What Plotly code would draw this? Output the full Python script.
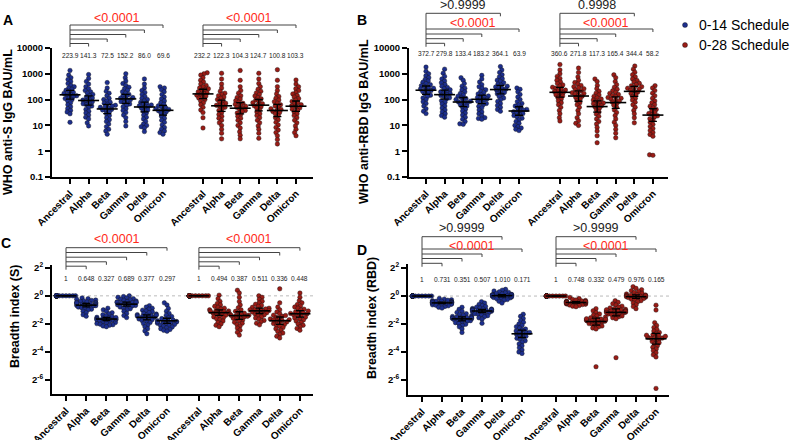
import numpy as np
import plotly.graph_objects as go

W, H = 793, 440
FONT = "Arial, Liberation Sans, sans-serif"
BLUE = "#1d2f8e"
RED = "#9a1c16"
PRED = "#ff2a1a"

VARIANTS = ["Ancestral", "Alpha", "Beta", "Gamma", "Delta", "Omicron"]
SCHEDULES = ["0-14 Schedule", "0-28 Schedule"]

# ---------------- Panel A: WHO anti-S IgG, log10(BAU/mL) ----------------
A_014 = [
    [3.13, 2.95, 2.85, 2.78, 2.7, 2.62, 2.55, 2.5, 2.45, 2.4, 2.36, 2.32, 2.28, 2.24, 2.2, 2.18, 2.15, 2.12, 2.08, 2.04, 2.0, 1.95, 1.88, 1.8, 1.72, 1.65, 1.58, 1.52, 1.45, 1.12],
    [2.97, 2.82, 2.7, 2.6, 2.5, 2.42, 2.35, 2.3, 2.25, 2.2, 2.15, 2.1, 2.06, 2.02, 1.98, 1.95, 1.92, 1.88, 1.84, 1.8, 1.75, 1.7, 1.62, 1.55, 1.48, 1.4, 1.32, 1.25, 1.1, 0.98],
    [2.66, 2.45, 2.32, 2.25, 2.15, 2.05, 2.0, 1.95, 1.9, 1.86, 1.82, 1.78, 1.75, 1.72, 1.7, 1.67, 1.62, 1.58, 1.52, 1.45, 1.38, 1.3, 1.22, 1.15, 1.05, 0.95, 0.85, 0.78, 0.66, 1.6],
    [3.0, 2.85, 2.72, 2.62, 2.55, 2.48, 2.42, 2.36, 2.3, 2.25, 2.2, 2.16, 2.12, 2.08, 2.05, 2.02, 1.99, 1.96, 1.92, 1.88, 1.83, 1.78, 1.72, 1.65, 1.58, 1.5, 1.4, 1.3, 1.15, 0.98],
    [2.8, 2.6, 2.45, 2.35, 2.28, 2.2, 2.12, 2.05, 2.0, 1.95, 1.9, 1.86, 1.82, 1.79, 1.76, 1.73, 1.7, 1.66, 1.6, 1.55, 1.48, 1.4, 1.32, 1.25, 1.15, 1.05, 1.0, 0.95, 0.9, 0.76],
    [2.5, 2.45, 2.38, 2.3, 2.2, 2.1, 2.02, 1.95, 1.88, 1.82, 1.76, 1.72, 1.68, 1.65, 1.62, 1.6, 1.57, 1.53, 1.48, 1.42, 1.35, 1.28, 1.2, 1.12, 1.02, 0.92, 0.85, 0.78, 0.72, 0.66],
]
A_028 = [
    [3.04, 3.0, 2.95, 2.85, 2.75, 2.68, 2.6, 2.55, 2.5, 2.45, 2.42, 2.38, 2.35, 2.3, 2.27, 2.24, 2.2, 2.17, 2.14, 2.1, 2.06, 2.0, 1.95, 1.88, 1.8, 1.7, 1.6, 1.5, 1.3, 0.9],
    [3.02, 2.8, 2.6, 2.45, 2.32, 2.25, 2.2, 2.15, 2.1, 2.05, 2.0, 1.95, 1.9, 1.86, 1.82, 1.78, 1.74, 1.7, 1.64, 1.58, 1.5, 1.42, 1.35, 1.28, 1.2, 1.1, 1.0, 0.85, 0.7, 0.48],
    [3.13, 2.75, 2.5, 2.35, 2.25, 2.15, 2.08, 2.02, 1.96, 1.9, 1.86, 1.82, 1.78, 1.74, 1.7, 1.67, 1.63, 1.58, 1.54, 1.48, 1.42, 1.35, 1.28, 1.2, 1.1, 1.0, 0.9, 0.75, 0.62, 0.48],
    [3.02, 2.8, 2.62, 2.5, 2.4, 2.32, 2.26, 2.2, 2.14, 2.08, 2.03, 1.98, 1.93, 1.88, 1.84, 1.8, 1.76, 1.72, 1.67, 1.6, 1.52, 1.45, 1.38, 1.3, 1.2, 1.1, 0.98, 0.85, 0.7, 0.5],
    [3.16, 2.75, 2.5, 2.35, 2.22, 2.12, 2.05, 1.98, 1.92, 1.86, 1.8, 1.75, 1.7, 1.65, 1.62, 1.58, 1.54, 1.5, 1.45, 1.38, 1.3, 1.22, 1.12, 1.02, 0.92, 0.82, 0.72, 0.6, 0.45, 0.28],
    [2.76, 2.6, 2.5, 2.42, 2.35, 2.28, 2.22, 2.16, 2.1, 2.04, 1.98, 1.93, 1.88, 1.84, 1.8, 1.76, 1.72, 1.68, 1.63, 1.58, 1.52, 1.45, 1.38, 1.3, 1.2, 1.1, 0.98, 0.85, 0.72, 0.6],
]
A_014_LBL = ["223.9", "141.3", "72.5", "152.2", "86.0", "69.6"]
A_028_LBL = ["232.2", "122.3", "104.3", "124.7", "100.8", "103.3"]

# ---------------- Panel B: WHO anti-RBD IgG, log10(BAU/mL) ----------------
B_014 = [
    [3.26, 3.1, 3.0, 2.92, 2.85, 2.78, 2.72, 2.67, 2.62, 2.58, 2.54, 2.5, 2.47, 2.44, 2.41, 2.38, 2.35, 2.31, 2.27, 2.22, 2.17, 2.12, 2.06, 2.0, 1.92, 1.85, 1.75, 1.65, 1.55, 1.46],
    [3.18, 3.02, 2.9, 2.8, 2.72, 2.65, 2.58, 2.52, 2.47, 2.42, 2.38, 2.34, 2.3, 2.27, 2.24, 2.2, 2.16, 2.12, 2.07, 2.02, 1.96, 1.9, 1.83, 1.75, 1.67, 1.6, 1.52, 1.45, 1.38, 1.32],
    [2.85, 2.75, 2.62, 2.52, 2.44, 2.37, 2.3, 2.24, 2.18, 2.13, 2.08, 2.04, 2.0, 1.97, 1.94, 1.91, 1.88, 1.84, 1.8, 1.75, 1.7, 1.63, 1.56, 1.48, 1.4, 1.32, 1.24, 1.15, 1.06, 1.04],
    [2.94, 2.8, 2.68, 2.58, 2.5, 2.44, 2.38, 2.32, 2.27, 2.22, 2.18, 2.14, 2.11, 2.08, 2.05, 2.02, 1.98, 1.94, 1.9, 1.85, 1.8, 1.74, 1.68, 1.6, 1.52, 1.45, 1.38, 1.3, 1.27, 1.24],
    [3.28, 3.15, 3.05, 2.96, 2.88, 2.81, 2.75, 2.7, 2.65, 2.6, 2.56, 2.52, 2.49, 2.46, 2.43, 2.4, 2.36, 2.32, 2.28, 2.23, 2.18, 2.12, 2.06, 2.0, 1.93, 1.85, 1.77, 1.7, 1.62, 1.55],
    [2.45, 2.4, 2.3, 2.2, 2.1, 2.0, 1.92, 1.85, 1.8, 1.75, 1.7, 1.66, 1.62, 1.59, 1.56, 1.53, 1.5, 1.46, 1.42, 1.38, 1.33, 1.28, 1.22, 1.15, 1.08, 1.0, 0.95, 0.9, 0.85, 0.8],
]
B_028 = [
    [3.36, 3.15, 3.0, 2.9, 2.82, 2.75, 2.68, 2.62, 2.57, 2.52, 2.48, 2.44, 2.4, 2.37, 2.34, 2.31, 2.27, 2.23, 2.19, 2.14, 2.08, 2.02, 1.95, 1.88, 1.8, 1.7, 1.58, 1.45, 1.3, 1.17],
    [3.22, 3.05, 2.88, 2.75, 2.66, 2.6, 2.55, 2.5, 2.46, 2.42, 2.38, 2.34, 2.3, 2.27, 2.24, 2.21, 2.17, 2.13, 2.08, 2.02, 1.96, 1.88, 1.8, 1.7, 1.58, 1.45, 1.3, 1.18, 1.08, 1.0],
    [2.8, 2.7, 2.55, 2.42, 2.32, 2.25, 2.18, 2.12, 2.07, 2.02, 1.98, 1.94, 1.9, 1.87, 1.84, 1.8, 1.76, 1.72, 1.66, 1.6, 1.52, 1.44, 1.35, 1.25, 1.15, 1.05, 0.92, 0.78, 0.6, 0.33],
    [2.96, 2.85, 2.7, 2.58, 2.48, 2.4, 2.34, 2.28, 2.24, 2.2, 2.16, 2.12, 2.08, 2.05, 2.02, 1.98, 1.94, 1.9, 1.85, 1.78, 1.7, 1.6, 1.5, 1.38, 1.25, 1.12, 1.0, 0.85, 0.7, 0.52],
    [3.3, 3.18, 3.06, 2.96, 2.88, 2.8, 2.74, 2.68, 2.63, 2.58, 2.54, 2.5, 2.47, 2.44, 2.41, 2.37, 2.33, 2.29, 2.24, 2.18, 2.12, 2.05, 1.98, 1.9, 1.8, 1.7, 1.58, 1.45, 1.3, 1.1],
    [2.54, 2.45, 2.35, 2.25, 2.15, 2.05, 1.95, 1.88, 1.8, 1.74, 1.68, 1.62, 1.56, 1.5, 1.46, 1.42, 1.37, 1.32, 1.26, 1.2, 1.12, 1.04, 0.96, 0.88, 0.8, 0.72, 0.65, 0.58, -0.14, -0.16],
]
B_014_LBL = ["372.7", "279.8", "133.4", "183.2", "364.1", "63.9"]
B_028_LBL = ["360.6", "271.8", "117.3", "165.4", "344.4", "58.2"]

# ---------------- Panel C: Breadth index (S), log2 ----------------
C_014 = [
    [0.0] * 30,
    [-0.15, -0.2, -0.25, -0.3, -0.33, -0.36, -0.4, -0.43, -0.46, -0.49, -0.52, -0.55, -0.57, -0.6, -0.62, -0.65, -0.68, -0.7, -0.73, -0.76, -0.8, -0.85, -0.9, -0.95, -1.0, -1.1, -1.2, -1.35, -1.45, -0.5],
    [-0.88, -1.0, -1.1, -1.2, -1.28, -1.35, -1.42, -1.48, -1.53, -1.57, -1.6, -1.63, -1.66, -1.69, -1.72, -1.75, -1.78, -1.82, -1.86, -1.9, -1.94, -1.98, -2.02, -2.06, -2.1, -2.15, -2.2, -1.65, -1.7, -1.55],
    [0.0, -0.05, -0.1, -0.15, -0.2, -0.24, -0.28, -0.32, -0.36, -0.4, -0.43, -0.46, -0.48, -0.5, -0.53, -0.56, -0.6, -0.64, -0.68, -0.72, -0.76, -0.8, -0.86, -0.92, -1.0, -1.1, -1.25, -1.4, -1.55, -0.45],
    [-0.7, -0.8, -0.88, -0.95, -1.02, -1.08, -1.14, -1.2, -1.25, -1.3, -1.34, -1.37, -1.4, -1.44, -1.48, -1.52, -1.56, -1.6, -1.65, -1.7, -1.76, -1.82, -1.9, -1.98, -2.08, -2.2, -2.35, -2.5, -2.7, -1.38],
    [-0.5, -0.65, -0.9, -1.1, -1.25, -1.38, -1.48, -1.56, -1.62, -1.68, -1.73, -1.77, -1.8, -1.83, -1.86, -1.89, -1.92, -1.96, -2.0, -2.04, -2.08, -2.12, -2.17, -2.22, -2.28, -2.34, -2.4, -2.46, -2.52, -1.85],
]
C_028 = [
    [0.0] * 30,
    [0.05, -0.2, -0.4, -0.55, -0.65, -0.75, -0.82, -0.88, -0.94, -1.0, -1.04, -1.08, -1.12, -1.16, -1.2, -1.24, -1.28, -1.33, -1.38, -1.44, -1.5, -1.56, -1.63, -1.7, -1.8, -1.9, -2.0, -2.1, -2.2, -1.1],
    [0.4, 0.2, -0.1, -0.4, -0.65, -0.85, -1.0, -1.1, -1.18, -1.24, -1.3, -1.34, -1.38, -1.42, -1.46, -1.5, -1.55, -1.6, -1.66, -1.72, -1.8, -1.88, -1.96, -2.05, -2.15, -2.3, -2.45, -2.6, -2.8, -1.4],
    [0.0, -0.1, -0.25, -0.38, -0.5, -0.6, -0.68, -0.75, -0.82, -0.88, -0.93, -0.97, -1.0, -1.04, -1.08, -1.12, -1.16, -1.2, -1.25, -1.3, -1.36, -1.42, -1.5, -1.58, -1.66, -1.75, -1.85, -1.95, -2.07, -0.95],
    [0.5, -0.5, -0.8, -1.0, -1.15, -1.28, -1.38, -1.46, -1.53, -1.6, -1.65, -1.7, -1.75, -1.8, -1.86, -1.92, -1.98, -2.04, -2.1, -2.18, -2.26, -2.35, -2.45, -2.55, -2.65, -2.75, -2.88, -3.0, -1.72, -1.4],
    [0.2, -0.1, -0.35, -0.5, -0.62, -0.72, -0.8, -0.88, -0.95, -1.02, -1.08, -1.14, -1.2, -1.25, -1.3, -1.35, -1.4, -1.46, -1.52, -1.58, -1.65, -1.72, -1.8, -1.9, -2.0, -2.1, -2.2, -2.32, -2.45, -1.22],
]
C_014_LBL = ["1", "0.648", "0.327", "0.689", "0.377", "0.297"]
C_028_LBL = ["1", "0.494", "0.387", "0.511", "0.336", "0.448"]

# ---------------- Panel D: Breadth index (RBD), log2 ----------------
D_014 = [
    [0.0] * 30,
    [-0.17, -0.22, -0.27, -0.3, -0.33, -0.36, -0.38, -0.4, -0.42, -0.44, -0.45, -0.46, -0.47, -0.48, -0.5, -0.52, -0.54, -0.56, -0.58, -0.6, -0.63, -0.66, -0.7, -0.74, -0.8, -0.86, -0.43, -0.41, -0.49, -0.51],
    [-0.8, -0.95, -1.08, -1.18, -1.26, -1.32, -1.38, -1.42, -1.46, -1.5, -1.53, -1.55, -1.57, -1.6, -1.62, -1.65, -1.68, -1.72, -1.76, -1.8, -1.85, -1.9, -1.96, -2.02, -2.1, -2.2, -2.35, -2.6, -1.52, -1.58],
    [-0.4, -0.5, -0.6, -0.68, -0.75, -0.8, -0.85, -0.89, -0.93, -0.96, -0.99, -1.02, -1.05, -1.08, -1.11, -1.14, -1.18, -1.22, -1.26, -1.3, -1.35, -1.4, -1.48, -1.55, -1.65, -1.95, -1.0, -0.98, -1.03, -0.92],
    [0.48, 0.42, 0.36, 0.3, 0.26, 0.22, 0.18, 0.15, 0.12, 0.1, 0.08, 0.06, 0.04, 0.02, 0.0, -0.02, -0.04, -0.07, -0.1, -0.13, -0.16, -0.2, -0.25, -0.3, -0.38, -0.5, 0.05, 0.03, 0.09, -0.01],
    [-1.3, -1.45, -1.6, -1.75, -1.88, -2.0, -2.1, -2.2, -2.28, -2.36, -2.43, -2.5, -2.56, -2.62, -2.68, -2.74, -2.8, -2.87, -2.94, -3.02, -3.1, -3.2, -3.3, -3.42, -3.55, -3.7, -3.85, -4.0, -4.1, -2.6],
]
D_028 = [
    [0.0] * 30,
    [-0.1, -0.18, -0.24, -0.28, -0.32, -0.35, -0.38, -0.4, -0.42, -0.44, -0.46, -0.48, -0.5, -0.52, -0.54, -0.56, -0.58, -0.61, -0.64, -0.68, -0.72, -0.76, -0.45, -0.43, -0.47, -0.41, -0.49, -0.39, -0.51, -0.46],
    [-0.9, -1.05, -1.18, -1.28, -1.36, -1.43, -1.5, -1.55, -1.6, -1.64, -1.68, -1.72, -1.76, -1.8, -1.84, -1.88, -1.92, -1.97, -2.02, -2.08, -2.14, -2.2, -2.28, -2.35, -1.7, -1.66, -1.74, -1.62, -1.78, -5.05],
    [-0.33, -0.45, -0.55, -0.64, -0.72, -0.79, -0.85, -0.9, -0.95, -1.0, -1.04, -1.08, -1.12, -1.16, -1.2, -1.24, -1.28, -1.32, -1.37, -1.42, -1.48, -1.55, -1.62, -1.1, -1.06, -1.14, -0.98, -1.18, -1.02, -4.4],
    [0.67, 0.55, 0.45, 0.38, 0.32, 0.26, 0.2, 0.15, 0.11, 0.07, 0.04, 0.01, -0.02, -0.05, -0.08, -0.11, -0.14, -0.18, -0.22, -0.27, -0.33, -0.4, -0.5, -0.62, -0.75, -0.9, 0.0, 0.02, -0.03, 0.06],
    [-0.65, -1.0, -1.9, -2.1, -2.25, -2.38, -2.5, -2.6, -2.68, -2.76, -2.84, -2.92, -3.0, -3.08, -3.16, -3.25, -3.34, -3.44, -3.55, -3.66, -3.78, -3.9, -4.05, -4.2, -4.35, -2.95, -2.88, -3.02, -2.8, -6.6],
]
D_014_LBL = ["1", "0.731", "0.351", "0.507", "1.010", "0.171"]
D_028_LBL = ["1", "0.748", "0.332", "0.479", "0.976", "0.165"]

# p-value labels
A_P = ["<0.0001", "<0.0001"]
B_P = ["<0.0001", "<0.0001"]
B_P_DELTA = [">0.9999", "0.9998"]
C_P = ["<0.0001", "<0.0001"]
D_P = ["<0.0001", "<0.0001"]
D_P_DELTA = [">0.9999", ">0.9999"]

LOG10_TICKS = [-1, 0, 1, 2, 3, 4]
LOG10_TEXT = ["0.1", "1", "10", "100", "1000", "10000"]
LOG2_TICKS = [2, 0, -2, -4, -6]
LOG2_TEXT = ["2<sup>2</sup>", "2<sup>0</sup>", "2<sup>-2</sup>", "2<sup>-4</sup>", "2<sup>-6</sup>"]

# ---------------- layout geometry (pixels) ----------------
PANELS = [
    dict(letter="A", n="", data=(A_014, A_028), lbl=(A_014_LBL, A_028_LBL), p=A_P, pd=None,
         xpx=(52, 313), ypx=(48, 177), c0=70, unit=18.6, gap=7.15, yr=(-1, 4),
         ticks=(LOG10_TICKS, LOG10_TEXT), title="WHO anti-S IgG BAU/mL", tx=8, ty=122,
         lx=8, ly=20, br=[25, 30, 34.5, 39, 43.5], brd=None, ptxt=17.5, pdtxt=None, vy=55, dotted=False),
    dict(letter="B", n="2", data=(B_014, B_028), lbl=(B_014_LBL, B_028_LBL), p=B_P, pd=B_P_DELTA,
         xpx=(409, 668), ypx=(48, 177), c0=426, unit=18.6, gap=7.2, yr=(-1, 4),
         ticks=(LOG10_TICKS, LOG10_TEXT), title="WHO anti-RBD IgG BAU/mL", tx=364, ty=122,
         lx=362, ly=20, br=[29, None, 34, 38.7, 43.3], brd=13.3, ptxt=22.7, pdtxt=5, vy=53.5, dotted=False),
    dict(letter="C", n="3", data=(C_014, C_028), lbl=(C_014_LBL, C_028_LBL), p=C_P, pd=None,
         xpx=(52, 313), ypx=(265, 394), c0=66, unit=20.2, gap=6.58, yr=(-7, 2.2),
         ticks=(LOG2_TICKS, LOG2_TEXT), title="Breadth index (S)", tx=15, ty=316,
         lx=6, ly=243, br=[247.7, 252.5, 257.2, 261.8, 266.2], brd=None, ptxt=239, pdtxt=None, vy=278, dotted=True),
    dict(letter="D", n="4", data=(D_014, D_028), lbl=(D_014_LBL, D_028_LBL), p=D_P, pd=D_P_DELTA,
         xpx=(408, 669), ypx=(264, 395), c0=422, unit=20.0, gap=6.7, yr=(-7.07, 2.29),
         ticks=(LOG2_TICKS, LOG2_TEXT), title="Breadth index (RBD)", tx=372, ty=318,
         lx=362, ly=250, br=[249, None, 254, 258.5, 263.3], brd=236.7, ptxt=245.7, pdtxt=227.5, vy=279, dotted=True),
]


def swarm(vals, ppy, d=3.4, lim=9.5):
    vals = np.asarray(vals, dtype=float)
    order = np.argsort(vals)
    placed = []
    offs = np.zeros(len(vals))
    for i in order:
        y = vals[i] * ppy
        forb = []
        for xp, yp in placed:
            dy = abs(y - yp)
            if dy < d:
                dx = np.sqrt(d * d - dy * dy)
                forb.append((xp - dx, xp + dx))
        cands = [0.0] + [a for a, b in forb] + [b for a, b in forb]
        cands.sort(key=lambda c: (abs(c), c))
        best = 0.0
        for c in cands:
            if all(not (a + 1e-6 < c < b - 1e-6) for a, b in forb):
                best = c
                break
        best = max(-lim, min(lim, best))
        offs[i] = best
        placed.append((best, y))
    return offs


def py(px):
    return 1 - px / H


fig = go.Figure()
shapes, annos = [], []
layout_axes = {}

for P in PANELS:
    n = P["n"]
    xa, ya = "x" + n, "y" + n
    ppy = (P["ypx"][1] - P["ypx"][0]) / (P["yr"][1] - P["yr"][0])
    unit = P["unit"]
    for s, (groups, color, labels) in enumerate(zip(P["data"], (BLUE, RED), P["lbl"])):
        centers = [s * P["gap"] + i for i in range(6)]
        xs, ys, means, ci = [], [], [], []
        for c, vals in zip(centers, groups):
            offs = swarm(vals, ppy)
            xs += list(c + offs / unit)
            ys += list(vals)
            v = np.asarray(vals)
            means.append(v.mean())
            ci.append(1.96 * v.std(ddof=1) / np.sqrt(len(v)) if v.std() > 0 else 0)
        fig.add_trace(go.Scatter(
            x=xs, y=ys, mode="markers", xaxis=xa, yaxis=ya, name=SCHEDULES[s], showlegend=False,
            marker=dict(size=4.5, color=color, line=dict(width=0.4, color="#111"))))
        fig.add_trace(go.Scatter(
            x=centers, y=means, mode="markers", xaxis=xa, yaxis=ya, showlegend=False,
            marker=dict(symbol="line-ew", size=15, line=dict(width=1.6, color="black")),
            error_y=dict(type="data", array=ci, color="black", thickness=1.3, width=4)))
        for c, t in zip(centers, labels):
            annos.append(dict(x=c, y=py(P["vy"]), xref=xa, yref="paper", text=t, showarrow=False,
                              font=dict(size=6.6, color="#222", family=FONT), xanchor="center", yanchor="middle"))
        order_targets = [5, 4, 3, 2, 1]
        bottom = max(b for b in P["br"] if b is not None)
        top = P["brd"] if P["brd"] is not None else min(b for b in P["br"] if b is not None)
        line = dict(color="#444", width=1)
        for tgt, yb in zip(order_targets, P["br"]):
            if yb is None:
                continue
            shapes.append(dict(type="line", xref=xa, yref="paper", x0=centers[0], x1=centers[tgt],
                               y0=py(yb), y1=py(yb), line=line))
            shapes.append(dict(type="line", xref=xa, yref="paper", x0=centers[tgt], x1=centers[tgt],
                               y0=py(yb), y1=py(yb + 3), line=line))
        if P["brd"] is not None:
            yb = P["brd"]
            shapes.append(dict(type="line", xref=xa, yref="paper", x0=centers[0], x1=centers[4],
                               y0=py(yb), y1=py(yb), line=line))
            shapes.append(dict(type="line", xref=xa, yref="paper", x0=centers[4], x1=centers[4],
                               y0=py(yb), y1=py(yb + 3), line=line))
            annos.append(dict(x=(centers[0] + centers[4]) / 2, y=py(P["pdtxt"]), xref=xa, yref="paper",
                              text=P["pd"][s], showarrow=False, xanchor="center", yanchor="middle",
                              font=dict(size=12.5, color="#222", family=FONT)))
        shapes.append(dict(type="line", xref=xa, yref="paper", x0=centers[0], x1=centers[0],
                           y0=py(top), y1=py(bottom + 3.5), line=line))
        annos.append(dict(x=(centers[0] + centers[5]) / 2, y=py(P["ptxt"]), xref=xa, yref="paper",
                          text=P["p"][s], showarrow=False, xanchor="center", yanchor="middle",
                          font=dict(size=12.5, color=PRED, family=FONT)))
    xr = ((P["xpx"][0] - P["c0"]) / unit, (P["xpx"][1] - P["c0"]) / unit)
    tickpos = [i for i in range(6)] + [P["gap"] + i for i in range(6)]
    layout_axes["xaxis" + n] = dict(
        domain=[P["xpx"][0] / W, P["xpx"][1] / W], range=list(xr), anchor=ya, automargin=False,
        showline=True, linewidth=2, linecolor="black", ticks="outside", ticklen=5, tickwidth=1.5,
        tickcolor="black", tickvals=tickpos, ticktext=["<b>%s</b>" % v for v in VARIANTS * 2],
        tickangle=-45, tickfont=dict(size=10, color="black", family=FONT), showgrid=False, zeroline=False)
    layout_axes["yaxis" + n] = dict(
        domain=[py(P["ypx"][1]), py(P["ypx"][0])], range=list(P["yr"]), anchor=xa, automargin=False,
        showline=True, linewidth=2, linecolor="black", ticks="outside", ticklen=5, tickwidth=1.5,
        tickcolor="black", tickvals=P["ticks"][0], ticktext=["<b>%s</b>" % t for t in P["ticks"][1]],
        tickfont=dict(size=9.5, color="black", family=FONT), showgrid=False, zeroline=False)
    if P["dotted"]:
        shapes.append(dict(type="line", xref=xa + " domain", yref=ya, x0=0, x1=1, y0=0, y1=0,
                           layer="below", line=dict(color="#bbbbbb", width=1, dash="dot")))
    annos.append(dict(x=P["tx"] / W, y=py(P["ty"]), xref="paper", yref="paper", text="<b>%s</b>" % P["title"],
                      textangle=-90, showarrow=False, xanchor="center", yanchor="middle",
                      font=dict(size=12.5, color="black", family=FONT)))
    annos.append(dict(x=P["lx"] / W, y=py(P["ly"]), xref="paper", yref="paper", text="<b>%s</b>" % P["letter"],
                      showarrow=False, xanchor="center", yanchor="middle",
                      font=dict(size=14, color="black", family=FONT)))

# legend drawn on its own small hidden axis
LEG_Y = [1, 0]
for s, color in enumerate((BLUE, RED)):
    fig.add_trace(go.Scatter(x=[0], y=[LEG_Y[s]], mode="markers", xaxis="x5", yaxis="y5", showlegend=False,
                             hoverinfo="skip", marker=dict(size=5, color=color, line=dict(width=0.4, color="#111"))))
    annos.append(dict(x=0, y=LEG_Y[s], xref="x5", yref="y5", text=SCHEDULES[s], showarrow=False,
                      xanchor="left", yanchor="middle", xshift=12, font=dict(size=14, color="black", family=FONT)))
layout_axes["xaxis5"] = dict(domain=[678 / W, 692 / W], range=[-1, 1], visible=False, anchor="y5")
layout_axes["yaxis5"] = dict(domain=[py(55), py(15)], range=[-0.5, 1.5], visible=False, anchor="x5")

fig.update_layout(
    width=W, height=H, margin=dict(l=0, r=0, t=0, b=0, autoexpand=False),
    paper_bgcolor="white", plot_bgcolor="white", showlegend=False,
    font=dict(family=FONT, color="black"),
    shapes=shapes, annotations=annos,
    **layout_axes,
)

fig.write_html("out.html", config={"displayModeBar": False},
               post_script="document.body.style.margin='0';document.body.style.overflow='hidden';")
